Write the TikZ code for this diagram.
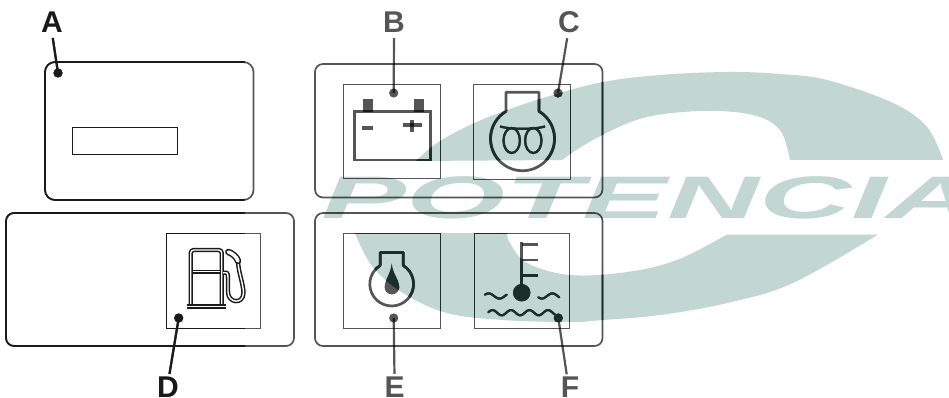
\documentclass[tikz,border=0pt]{standalone}
\usepackage{fontspec}
\setmainfont{Liberation Sans}
\usetikzlibrary{calc}
\definecolor{wm}{HTML}{C2D7D1}
\definecolor{ink}{HTML}{555555}
\definecolor{inkblack}{HTML}{1A1A1A}
\definecolor{inkteal}{HTML}{1C2E2A}
\tikzset{
  lab/.style={font=\fontsize{30}{30}\selectfont\bfseries,inner sep=0pt,outer sep=0pt,anchor=base},
  panel/.style={line width=1.7pt,rounded corners=8pt},
  frame/.style={line width=1pt},
  leader/.style={line width=2.2pt},
  sym/.style={line width=2.7pt},
  fine/.style={line width=2.2pt},
  pumpline/.style={line width=1.5pt,double=white,double distance=1.4pt,draw=inkblack,line join=round}
}
\newcommand{\upperswoosh}{(416,161) -- plot[smooth,tension=.6] coordinates {(416,161)(437,143)(470,125)(507,110)(553,95)(603,82)(660,75)(727,72)(780,74)(827,80)(893,103)(927,127)(943,160)} -- plot[smooth,tension=.6] coordinates {(790,160)(780,130)(753,115)(703,111)(643,118)(593,140)(562,160)} -- cycle}
\newcommand{\lowerswoosh}{(355,233) -- plot[smooth,tension=.6] coordinates {(355,233)(372,266)(403,293)(447,313)(503,320)(570,322)(603,320)(660,315)(727,303)(793,283)(878,234.5)} -- plot[smooth,tension=.6] coordinates {(727,234.5)(677,260)(627,272)(570,275)(527,263)(510,243)(507,233)} -- cycle}
\newcommand{\art}[1]{%
  \begin{scope}[draw=#1,fill=#1]
  % panels
  \draw[panel,rounded corners=10pt] (45,62) rectangle (253.5,200);
  \draw[panel] (315,64) rectangle (602.5,197.5);
  \draw[panel] (315,213) rectangle (602.5,346);
  \draw[panel] (6,213) rectangle (294,346);
  % frames
  \draw[frame] (72,127.7) rectangle (177.5,154.3);
  \draw[frame] (343.7,84.3) rectangle (440.7,178.3);
  \draw[frame] (473.7,84.7) rectangle (570.7,179);
  \draw[frame] (343.5,233.7) rectangle (440.5,328.3);
  \draw[frame] (474.7,233.7) rectangle (569.3,328.5);
  \draw[frame] (166.3,233.5) rectangle (260.7,328.7);
  % connectors
  \draw[leader] (labA.south) [shorten <=5pt] -- (dotA);
  \draw[leader] (labB.south) [shorten <=5pt] -- (dotB);
  \draw[leader] ([xshift=-1pt]labC.south) [shorten <=5pt] -- (dotC);
  \draw[leader,shorten >=3pt] (dotD) -- ([xshift=1pt]labD.north);
  \draw[leader,shorten >=2.5pt] (dotE) -- (labE.north);
  \draw[leader,shorten >=2pt] (dotF) -- ([xshift=-3pt]labF.north);
  \foreach \d in {dotA,dotB,dotC,dotD,dotE,dotF} \fill (\d) circle (4.6);
  % battery
  \draw[sym] (354.5,111.7) rectangle (430.3,160);
  \fill (362.7,99) rectangle (373.3,111.7);
  \fill (414,99) rectangle (424,111.7);
  \fill (362,126) rectangle (372.7,129.7);
  \fill (402.7,123.2) rectangle (421.7,126.8);
  \fill (410,120) rectangle (413.6,131.7);
  % engine
  \draw[sym,line join=round] (506,111.3) -- (506,92.3) -- (539,92.3) -- (539,111.3)
      arc[start angle=-59,end angle=239,radius=32];
  \draw[fine] (511.7,140.5) ellipse (8.2 and 12.5);
  \draw[fine] (533.3,140.5) ellipse (8.2 and 12.5);
  \draw[fine] (500,126.5) .. controls (510,129.5) and (535,129.5) .. (545,126.5);
  % oil
  \draw[sym,line join=round] (380.3,265.5) -- (380.3,252.5) -- (403.3,252.5) -- (403.3,265.5)
      arc[start angle=-58,end angle=238,radius=21.9];
  \fill (391.7,263.5) .. controls (392.5,274) and (399.3,280) .. (399.3,287)
     arc[start angle=0,end angle=180,radius=7.4]
     .. controls (384.5,280) and (391,274) .. (391.7,263.5) -- cycle;
  % thermometer
  \draw[sym] (521.7,242) -- (521.7,285);
  \draw[sym] (521.7,244.7) -- (538.3,244.7);
  \draw[sym] (521.7,260) -- (538.3,260);
  \draw[sym] (521.7,275.3) -- (538.3,275.3);
  \fill (521.7,292.7) circle (8.7);
  \draw[fine,line cap=round] plot[domain=0:1,samples=30,smooth] ({485+21.7*\x},{296-2.6*sin(360*\x+30)});
  \draw[fine,line cap=round] plot[domain=0:1,samples=30,smooth] ({538.3+21*\x},{296+2.6*sin(360*\x+30)});
  \draw[fine,line cap=round] plot[domain=0:1,samples=90,smooth] ({488.3+66.7*\x},{312.7-2.6*sin(360*3.6*\x+10)});
  \end{scope}
}
\begin{document}
\begin{tikzpicture}[x=1pt,y=-1pt]
\useasboundingbox (0,0) rectangle (949,398);
\fill[white] (0,0) rectangle (949,398);
% watermark
\begin{scope}
  \clip (0,0) rectangle (949,398);
  \fill[wm] \upperswoosh;
  \fill[wm] \lowerswoosh;
  \node[text=wm,font={\fontsize{60}{60}\selectfont\bfseries\itshape},inner sep=0pt,anchor=base west,xscale=2.12,transform shape] (wmtext) at (321,218) {POTENCIA};
\end{scope}
% labels and dots
\node[lab,text=inkblack] (labA) at (52,33) {A};
\node[lab,text=ink] (labB) at (394,33) {B};
\node[lab,text=ink] (labC) at (569,33) {C};
\node[lab,text=inkblack] (labD) at (168,397.5) {D};
\node[lab,text=ink] (labE) at (394.5,397) {E};
\node[lab,text=ink] (labF) at (570,397) {F};
\coordinate (dotA) at (58,73);
\coordinate (dotB) at (393.7,93);
\coordinate (dotC) at (558,93);
\coordinate (dotD) at (178.7,318);
\coordinate (dotE) at (393.7,318);
\coordinate (dotF) at (558.3,318);
% base art
\begin{scope}[blend mode=multiply]
\art{ink}
\end{scope}
% dark left part
\begin{scope}
  \clip (0,0) rectangle (245,398);
  \art{inkblack}
\end{scope}
% dark on swoosh
\begin{scope}
  \clip \upperswoosh;
  \art{inkteal}
\end{scope}
\begin{scope}
  \clip \lowerswoosh;
  \art{inkteal}
\end{scope}
% fuel pump
\draw[pumpline,rounded corners=3pt] (190.7,306) -- (190.7,250) -- (221.7,250) -- (221.7,306);
\draw[pumpline] (192.7,271.7) -- (219.7,271.7);
\draw[pumpline] (186.7,306.3) -- (226,306.3);
\draw[pumpline] (223,272.7) -- (226,272.7) .. controls (228,272.7) and (228,276) .. (228,280) -- (228,292) .. controls (228,303) and (243,305) .. (243.5,293) .. controls (243.5,285) and (238.5,272) .. (238,262);
\draw[pumpline,line cap=round,double distance=3.5pt] (228.3,252) .. controls (232,253) and (237,257) .. (238,261);
\end{tikzpicture}
\end{document}
